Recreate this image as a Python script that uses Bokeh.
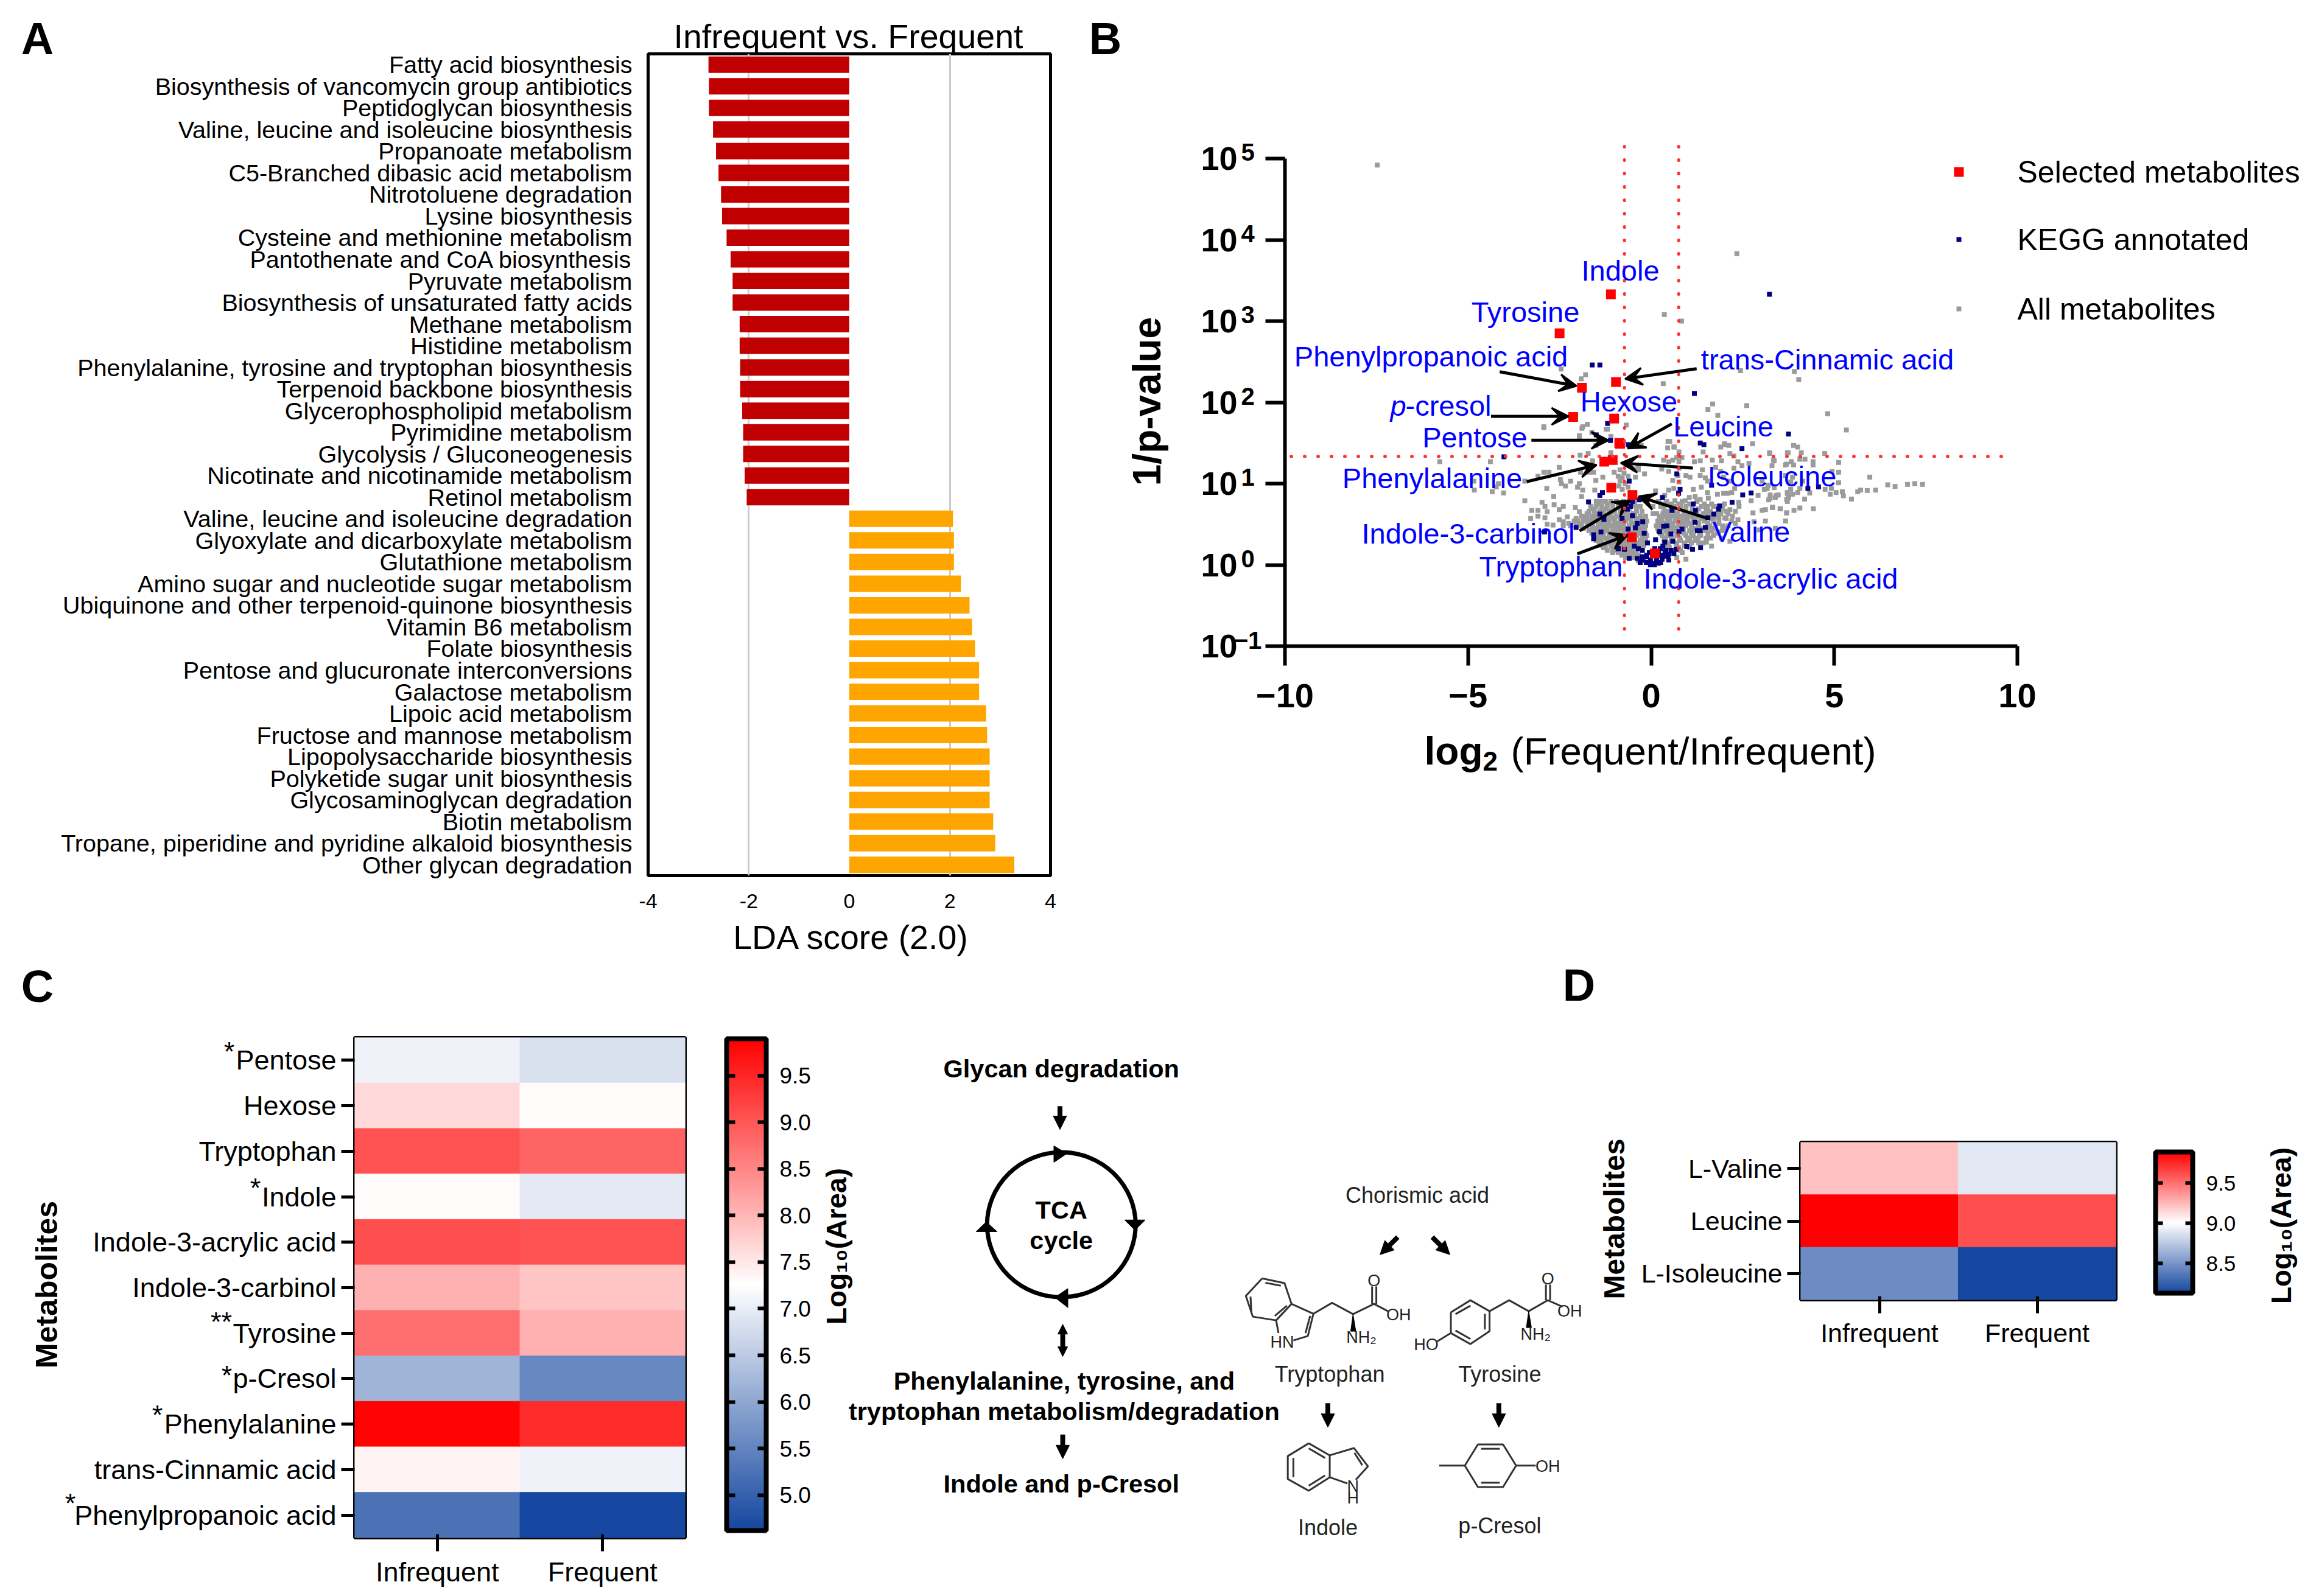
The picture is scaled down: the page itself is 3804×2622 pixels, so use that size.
from bokeh.plotting import figure
from bokeh.layouts import column, row, Spacer
from bokeh.models import (Range1d, FactorRange, FixedTicker, Arrow, VeeHead, NormalHead,
                          LinearColorMapper, ColorBar, ColumnDataSource, BasicTickFormatter, PrintfTickFormatter)
from bokeh.core.properties import value
from bokeh.transform import transform
from bokeh.embed import file_html
from bokeh.resources import INLINE
import math

FONT = "Liberation Sans"

# ---------- Panel A data ----------
pathways_red = ["Fatty acid biosynthesis", "Biosynthesis of vancomycin group antibiotics", "Peptidoglycan biosynthesis",
    "Valine, leucine and isoleucine biosynthesis", "Propanoate metabolism", "C5-Branched dibasic acid metabolism",
    "Nitrotoluene degradation", "Lysine biosynthesis", "Cysteine and methionine metabolism",
    "Pantothenate and CoA biosynthesis", "Pyruvate metabolism", "Biosynthesis of unsaturated fatty acids",
    "Methane metabolism", "Histidine metabolism", "Phenylalanine, tyrosine and tryptophan biosynthesis",
    "Terpenoid backbone biosynthesis", "Glycerophospholipid metabolism", "Pyrimidine metabolism",
    "Glycolysis / Gluconeogenesis", "Nicotinate and nicotinamide metabolism", "Retinol metabolism"]
scores_red = [-2.80, -2.79, -2.79, -2.71, -2.65, -2.60, -2.55, -2.53, -2.44, -2.36, -2.32, -2.32, -2.18, -2.18,
    -2.17, -2.17, -2.13, -2.11, -2.11, -2.08, -2.04]
pathways_orange = ["Valine, leucine and isoleucine degradation", "Glyoxylate and dicarboxylate metabolism",
    "Glutathione metabolism", "Amino sugar and nucleotide sugar metabolism",
    "Ubiquinone and other terpenoid-quinone biosynthesis", "Vitamin B6 metabolism", "Folate biosynthesis",
    "Pentose and glucuronate interconversions", "Galactose metabolism", "Lipoic acid metabolism",
    "Fructose and mannose metabolism", "Lipopolysaccharide biosynthesis", "Polyketide sugar unit biosynthesis",
    "Glycosaminoglycan degradation", "Biotin metabolism", "Tropane, piperidine and pyridine alkaloid biosynthesis",
    "Other glycan degradation"]
scores_orange = [2.06, 2.08, 2.08, 2.22, 2.39, 2.44, 2.50, 2.58, 2.58, 2.72, 2.74, 2.79, 2.79, 2.79, 2.86, 2.90, 3.28]

# ---------- Panel B data (log2 fold change, log10 of 1/p) ----------
selected_names = ["Indole", "Tyrosine", "Phenylpropanoic acid", "trans-Cinnamic acid", "p-cresol", "Hexose", "Leucine",
    "Pentose", "Phenylalanine", "Isoleucine", "Indole-3-carbinol", "Valine", "Tryptophan", "Indole-3-acrylic acid"]
selected_x = [-1.10, -2.50, -1.89, -0.96, -2.13, -1.01, -0.85, -0.87, -1.28, -1.05, -1.09, -0.51, -0.53, 0.10]
selected_log = [3.33, 2.85, 2.18, 2.25, 1.82, 1.80, 1.49, 1.50, 1.27, 1.29, 0.95, 0.86, 0.34, 0.14]
fc_lines = [-0.72, 0.76]
p_line_log = 1.334

all_sparse = [(-7.48,4.92),(2.34,3.83),(0.36,3.08),(0.83,3.0),(2.44,2.39),(3.91,2.38),(1.68,1.98),(1.55,1.91),(2.61,1.96),
 (0.33,2.23),(-2.46,2.41),(-1.79,2.34),(-1.91,2.29),(1.82,1.84),(-2.93,1.70),(-1.87,1.70),(-1.74,1.73),(-1.23,1.67),
 (-1.96,1.59),(-0.68,1.72),(1.82,1.63),(0.46,1.52),(0.63,1.45),(2.0,1.48),
 (-5.77,1.27),(-4.39,1.27),(-4.84,1.03),(-4.83,.92),(-4.34,.90),(-4.23,.96),(-4.03,.885),(-4.17,1.0),(-3.45,.79),(-3.45,1.03),
 (-3.09,1.09),(-2.93,1.14),(-2.79,1.14),(-2.51,1.20),(-2.48,1.05),(-2.45,1.0),(-2.34,.97),(-2.2,1.03),(-2.85,.94),(-2.66,.84),
 (-2.65,.74),(-2.98,.77),(-2.9,.72),(-2.84,.655),(-2.51,.68),(-2.4,.72),(-3.26,.67),(-3.09,.67),(-3.09,.6),(-3.29,.57),(-2.9,.58),
 (-2.84,.5),(-2.68,.49),(-2.51,.555),(-2.29,.59),(-2.4,.53),(-2.07,.705),(-1.96,.655),(-2.01,.955),(-1.96,1.0),(-1.87,.92),
 (-1.9,.84),(-1.54,.92),(-1.51,1.04),(-1.32,1.08),(-1.93,1.14),(-1.68,1.14),(-1.57,1.14),(-1.94,1.35),(-1.72,1.37),(-1.6,1.28),
 (-1.96,1.58),(-1.51,1.47),(-1.1,1.38),(-1.1,1.58),(-1.62,1.63),(-1.89,1.68),(-1.19,1.67),(-2.93,1.69),
 (-1.01,1.14),(-.85,1.17),(-.74,1.13),(-.9,1.09),(-.79,1.07),(-.63,1.09),(-.46,1.18),(-.35,1.17),(-.18,1.12),(-.85,1.03),
 (-.71,1.0),(-.88,.97),(-.63,.955),(-.43,1.08),(-.79,.93),(-.35,1.22),
 (.51,1.52),(.45,1.44),(.62,1.45),(-.27,1.47),(1.9,1.45),(2.0,1.49),(2.12,1.47),(2.77,1.49),(1.42,1.39),(2.15,1.37),(2.26,1.34),
 (3.23,1.38),(3.72,1.38),(.84,1.32),(.76,1.39),(.7,1.32),(1.18,1.27),(1.34,1.28),(1.67,1.29),(1.92,1.28),(2.37,1.27),(2.67,1.25),
 (3.34,1.29),(3.7,1.24),(.34,1.29),(.48,1.27),(.59,1.29),(.76,1.27),(.29,1.18),(.48,1.15),(.76,1.19),(1.4,1.17),(1.34,1.10),
 (1.06,1.08),(.95,1.10),(.73,1.10),(.59,1.04),(.76,1.02),(.62,.94),(.48,.92),(.37,.855),(.12,.91),(1.48,1.07),(1.54,1.03),
 (1.76,1.2),(1.9,1.15),(1.98,1.08),(2.26,1.19),(2.48,1.22),(2.15,1.03),(2.28,.94),(2.09,.88),(1.98,.88),(1.81,.87),(2.2,.89),
 (2.39,.77),(2.73,.79),(2.92,.855),(3.09,.93),(3.25,.82),(3.42,.855),(3.7,.805),(3.72,.89),(3.03,1.03),(3.2,.98),(1.37,.955),
 (1.15,.93),(1.54,.89),(1.56,.82),(1.2,.84),(1.34,.805),(1.04,.83),(.93,.79),(.65,.79),(.48,.74),(.26,.72),(.15,.63),(.32,.63),
 (.51,.6),(.73,.63),(.95,.72),(1.01,.6),(1.37,.72),(1.54,.72),(1.42,.63),(1.7,.72),(2.15,.68),(1.9,.63),(2.01,.58),(2.78,.64),
 (3.03,.67),(3.12,.68),(3.31,.705),(3.53,.69),(3.7,.64),(2.37,.555),(2.81,.53),(3.12,.54),(3.67,.54),(2.95,.43),(1.84,.405),
 (2.15,.29),(1.65,.23),(1.51,.28),(1.92,.33),(.95,.07),
 (4.03,2.28),(4.82,1.86),(5.33,1.66),(3.89,1.47),(4.0,1.45),(3.24,1.37),(3.74,1.38),(4.1,1.38),(4.74,1.37),(4.06,1.3),(4.2,1.3),
 (4.42,1.27),(4.42,1.23),(5.12,1.26),(3.36,1.28),(3.3,1.22),(3.67,1.23),(3.83,1.27),(3.89,1.23),(4.94,1.15),(5.12,1.14),(5.97,1.08),
 (5.12,1.01),(3.67,1.1),(3.86,1.08),(4.14,1.03),(3.81,1.02),(3.81,.93),(3.36,.95),(4.06,.94),(3.17,.94),(4.75,.93),(4.92,.94),
 (4.89,.87),(5.05,.89),(5.22,.9),(5.25,.85),(5.47,.81),(5.64,.9),(5.72,.92),(5.9,.915),(6.13,.92),(6.46,.985),(6.66,.965),(7.0,.99),
 (7.2,1.0),(7.41,.99),(4.33,.885),(4.19,.81),(3.72,.88),(4.0,.89),(3.86,.87),(3.47,.86),(3.25,.86),(3.21,.8),(3.39,.83),(3.72,.78),
 (3.75,.83),(3.32,.71),(3.52,.69),(3.7,.64),(3.9,.67),(4.06,.70),(4.43,.69),(3.67,.54),(3.39,.45)]

all_core_rows = {
 .78: [-1.5,-1.38,-1.25,-1.1,-.95,-.75,-.6,-.45,.2,.42,.85,1.25],
 .75: [-1.45,-1.2,-.85,-.5,.3,.55,.75,1.05,1.45,1.65,2.0],
 .72: [-1.65,-1.5,-1.35,-1.2,-1.05,-.9,-.72,-.55,-.4,-.3,.05,.62,.8,1.12,1.78,2.4],
 .69: [-1.6,-1.25,-.8,-.6,.35,.55,.95,1.3,1.5,1.95],
 .66: [-1.7,-1.55,-1.4,-1.3,-1.15,-1.0,-.85,-.65,-.4,-.25,.42,.62,.9,1.12,1.62,2.05,2.3],
 .63: [-1.75,-1.45,-1.1,-.72,-.5,.05,.48,.7,.9,1.25,1.5,1.8,2.1],
 .60: [-1.9,-1.8,-1.62,-1.5,-1.35,-1.22,-1.1,-.95,-.8,-.6,-.45,-.3,-.15,.22,.4,.62,.85,1.12,1.28,1.6,1.78,2.22],
 .57: [-2.05,-1.75,-1.55,-1.25,-1.05,-.85,-.65,-.35,-.2,.28,.45,.72,.95,1.15,1.35,1.65,1.85,2.05],
 .54: [-2.1,-2.0,-1.85,-1.72,-1.6,-1.45,-1.3,-1.15,-1.0,-.85,-.7,-.55,-.4,-.25,-.12,.18,.3,.5,.65,.82,1.0,1.2,1.45,1.7,2.2],
 .51: [-2.25,-1.95,-1.65,-1.4,-1.2,-.95,-.78,-.5,-.35,-.18,.22,.42,.6,.88,1.08,1.3,1.55,1.85,2.3],
 .48: [-2.4,-2.2,-2.05,-1.9,-1.75,-1.6,-1.45,-1.32,-1.18,-1.05,-.9,-.75,-.6,-.45,-.3,-.15,.14,.25,.55,.75,.95,1.1,1.3,1.6,1.75,1.95,2.1],
 .45: [-1.85,-1.5,-1.25,-1.0,-.8,-.65,-.38,-.22,.18,.32,.48,.68,.88,1.18,1.38,1.52,1.7,2.0],
 .42: [-1.7,-1.58,-1.45,-1.32,-1.2,-1.05,-.9,-.75,-.6,-.45,-.3,-.18,.2,.4,.6,.85,1.05,1.25,1.45,1.65,1.95],
 .39: [-1.62,-1.38,-1.1,-.92,-.65,-.5,-.32,-.15,.25,.45,.72,.9,1.1,1.32,1.55,1.8],
 .36: [-1.55,-1.42,-1.3,-1.15,-1.0,-.85,-.7,-.55,-.4,-.25,-.12,.3,.5,.7,.95,1.15,1.35,1.7],
 .33: [-1.45,-1.22,-1.08,-.95,-.78,-.62,-.48,-.2,.4,.55,.78,1.05,1.28,1.5,1.62],
 .30: [-1.5,-1.35,-1.2,-1.05,-.9,-.75,-.6,-.45,-.3,-.15,.35,.6,.8,1.0,1.2],
 .27: [-1.42,-1.15,-.98,-.82,-.68,-.52,-.38,-.25,.48,.68,.92,1.1,1.3,1.42],
 .24: [-1.4,-1.25,-1.1,-.95,-.8,-.65,-.5,-.35,-.2,.4,.7,.9],
 .21: [-1.3,-1.05,-.9,-.72,-.58,-.42,-.28,.5,.75,1.05],
 .18: [-1.2,-1.0,-.85,-.7,-.55,-.4,.55,.8],
 .15: [-1.05,-.9,-.75,-.6,-.45,.62,.85],
 .12: [-.8,-.65,-.5,-.35],
 .09: [-.7,-.55,-.42,.7],
 .05: [-.35,-.2],
}

kegg_points = [(-1.11,1.53),(-.63,1.48),(.7,1.12),(.79,.93),(.75,.88),(1.65,.98),(1.34,1.5),(1.44,1.48),(2.48,1.43),(3.75,1.61),(.31,.83),
 (1.15,.75),(1.21,.67),(.57,.67),(2.5,.86),(2.73,.885),(2.21,.77),(1.87,.725),(1.84,.685),(1.71,.625),(1.55,.58),(1.2,.525),(1.48,.46),
 (1.34,.42),(1.26,.42),(.84,.44),(.76,.41),(.54,.38),(.23,.41),(.34,.475),(.43,.48),(-.19,.39),(-.23,.53),(-.38,.51),(-.43,.455),
 (-.51,.605),(-.79,.57),(-.6,1.03),(-.51,.78),(-.32,.8),(-.65,.685),(-.56,.72),(-.63,.44),(-.9,.2),(-.73,.19),(.12,.31),(-.1,.27),
 (.59,.29),(.97,.225),(1.13,.19),(1.35,.21),(-.6,.08),(-.46,.23),(-.35,.2),(-.24,.18),(-.13,.1),(-.24,.1),(-.38,.08),(.37,.28),(.32,.23),
 (.4,.18),(.54,.18),(.62,.14),(.45,.107),(.32,.107),(.48,.06),(.26,.03),(.09,.0),(-.02,.0),(-.13,.03),(-.02,.06),(.15,.06),(-.24,.06),
 (.2,.14),(.25,.2),(-.05,.15),(.1,.2),(-1.5,1.6),(-4.02,1.33),(-1.71,.775),(-1.4,.855),(-1.33,.89),(-1.4,.625),(-1.29,.56),(-2.05,.46),
 (-1.57,.37),(-1.57,.32),(-1.37,.405),(-2.91,.405),(-.9,.2),(4.28,.94),(4.57,.96),(3.23,3.33),(-1.61,2.46),(-1.4,2.46),(1.18,2.11),(-1.19,1.74),
 (-.08,.03),(.05,.02),(.2,.02),(.3,.07),(.05,.12),(-.12,.12),(.38,.16),(.15,.1),(-.3,.03),(.48,.13),(.25,.12),(.68,.19)]

# ---------- Panels C, D data ----------
metabolites_c = ["Pentose", "Hexose", "Tryptophan", "Indole", "Indole-3-acrylic acid", "Indole-3-carbinol", "Tyrosine",
                 "p-Cresol", "Phenylalanine", "trans-Cinnamic acid", "Phenylpropanoic acid"]
infrequent_c = [7.08, 7.64, 9.05, 7.30, 9.09, 8.06, 8.76, 6.18, 9.87, 7.38, 5.25]
frequent_c = [6.82, 7.30, 8.85, 6.95, 9.05, 7.85, 8.06, 5.55, 9.44, 7.07, 4.65]
metabolites_d = ["L-Valine", "Leucine", "L-Isoleucine"]
infrequent_d = [9.22, 9.89, 8.46]
frequent_d = [8.90, 9.62, 8.13]
groups = ["Infrequent", "Frequent"]

BLUE, WHITE, RED = (21, 71, 160), (255, 255, 255), (255, 0, 0)
def ramp(a, b, n):
    return [(a[0] + (b[0]-a[0])*i/n, a[1] + (b[1]-a[1])*i/n, a[2] + (b[2]-a[2])*i/n) for i in range(n)]
palette = ["#%02x%02x%02x" % tuple(int(round(c)) for c in col) for col in ramp(BLUE, WHITE, 128) + ramp(WHITE, RED, 128) + [RED]]

def make_fig(W, H, bl, br, bt, bb, **kw):
    p = figure(width=W, height=H, output_backend="svg", toolbar_location=None, min_border_left=bl, min_border_right=br,
               min_border_top=bt, min_border_bottom=bb, background_fill_color=None, border_fill_color=None, frame_align=False, **kw)
    return p

# full-page transparent layer in page pixel coordinates: free texts, legend, schematic
lay = figure(width=3788, height=2606, output_backend="svg", toolbar_location=None, min_border=0, frame_align=False,
             x_range=Range1d(8, 3796), y_range=Range1d(2614, 8), background_fill_color=None, border_fill_color=None)
lay.axis.visible = False; lay.grid.visible = False; lay.outline_line_color = None

def label(px, py, text, size, style="normal", color="black", align="center", angle=0):
    lay.text([px], [py], text=[text], text_font=value(FONT), text_font_size=f"{size}px", text_font_style=style, text_color=color,
             text_align=align, text_baseline="middle", angle=angle)

# ================= A =================
order_a = pathways_red + pathways_orange
pa = make_fig(1772, 1562, 1056, 55, 80, 132, x_range=Range1d(-4, 4), y_range=FactorRange(factors=order_a[::-1]))
pa.hbar(y=pathways_red, left=0, right=scores_red, height=0.76, color="#C00000", line_color=None)
pa.hbar(y=pathways_orange, left=0, right=scores_orange, height=0.76, color="#FFA500", line_color=None)
pa.xgrid.ticker = FixedTicker(ticks=[-2, 2])
pa.xgrid.grid_line_color = "#cccccc"; pa.xgrid.grid_line_width = 3
pa.ygrid.visible = False
pa.xaxis.ticker = FixedTicker(ticks=[-4, -2, 0, 2, 4])
pa.xaxis.major_label_overrides = {-4: "-4", -2: "-2", 0: "0", 2: "2", 4: "4"}
pa.xaxis.major_tick_line_color = None; pa.xaxis.minor_tick_line_color = None; pa.xaxis.axis_line_color = None
pa.xaxis.major_label_text_font = FONT; pa.xaxis.major_label_text_font_size = "34px"; pa.xaxis.major_label_standoff = 24
pa.xaxis.major_label_text_color = "black"
pa.yaxis.major_tick_line_color = None; pa.yaxis.axis_line_color = None; pa.yaxis.minor_tick_line_color = None
pa.yaxis.major_label_text_font = FONT; pa.yaxis.major_label_text_font_size = "39.5px"; pa.yaxis.major_label_standoff = 20
pa.yaxis.major_label_text_color = "black"
pa.outline_line_color = "black"; pa.outline_line_width = 5
label(1393, 59, "Infrequent vs. Frequent", 55.5)
label(1398, 1539, "LDA score (2.0)", 55.5)
label(61, 63, "A", 74, "bold")

# ================= B =================
pb = make_fig(2016, 1562, 330, 483, 252, 509, x_range=Range1d(-10, 10), y_range=Range1d(0.1, 1e5), y_axis_type="log")
all_points = all_sparse + [(x, y) for y, xs in all_core_rows.items() for x in xs]
ax, ay = zip(*all_points)
kx, ky = zip(*kegg_points)
pb.scatter(list(ax), [10**v for v in ay], marker="square", size=8, color="#9b9b9b", line_color=None)
pb.scatter(list(kx), [10**v for v in ky], marker="square", size=8, color="#000080", line_color=None)
pb.scatter(selected_x, [10**v for v in selected_log], marker="square", size=16, color="#ff0000", line_color=None)
pb.grid.visible = False
pb.outline_line_color = None
pb.xaxis.ticker = FixedTicker(ticks=[-10, -5, 0, 5, 10])
pb.xaxis.major_label_overrides = {-10: "\u221210", -5: "\u22125", 0: "0", 5: "5", 10: "10"}
pb.yaxis.ticker = FixedTicker(ticks=[0.1, 1, 10, 100, 1000, 10000, 100000])
pb.yaxis.formatter = BasicTickFormatter()
pb.yaxis.major_label_overrides = {0.1: "10", 1: "10", 10: "10", 100: "10", 1000: "10", 10000: "10", 100000: "10"}
for ax_ in (pb.xaxis, pb.yaxis):
    ax_.axis_line_width = 6; ax_.axis_line_color = "black"
    ax_.major_tick_line_width = 6; ax_.major_tick_line_color = "black"; ax_.major_tick_in = 0; ax_.major_tick_out = 32
    ax_.minor_tick_line_color = None
    ax_.major_label_text_font = FONT; ax_.major_label_text_font_style = "bold"; ax_.major_label_text_font_size = "56px"
    ax_.major_label_text_color = "black"
pb.xaxis.major_label_standoff = 30
pb.yaxis.major_label_standoff = 46
pb.yaxis.major_label_text_font_size = "54px"
def bx(px): return (px - 2711) / 60.15
def by(py): return 10 ** (5 - (py - 259.5) / 133.6)
# dotted threshold lines run a little past the axes, so they are drawn on the page layer
for fc in fc_lines:
    px = 2711 + fc * 60.15
    lay.line([px, px], [240, 1053], line_color="#ff3030", line_width=5, line_dash="1 21", line_cap="round")
py_line = 259.5 + (5 - p_line_log) * 133.6
lay.line([2120, 3308], [py_line, py_line], line_color="#ff3030", line_width=5, line_dash="1 21", line_cap="round")
for e, t in zip([5, 4, 3, 2, 1, 0, -1], ["5", "4", "3", "2", "1", "0", "\u22121"]):
    label(2049, 249.5 + (5 - e) * 133.6, t, 40, "bold")
blue_text = [("Indole", 2661, 444), ("Tyrosine", 2505, 512), ("Phenylpropanoic acid", 2350, 585), ("trans-Cinnamic acid", 3001, 590),
             ("Hexose", 2675, 659), ("Leucine", 2830, 700), ("Pentose", 2422, 718), ("Isoleucine", 2910, 782),
             ("Phenylalanine", 2352, 785), ("Indole-3-carbinol", 2411, 876), ("Valine", 2876, 873), ("Tryptophan", 2547, 930),
             ("Indole-3-acrylic acid", 2908, 950)]
for t, px, py in blue_text:
    label(px, py, t, 47, color="#0000ff")
label(2283, 666, "p", 47, "italic", "#0000ff", "left")
label(2308, 666, "-cresol", 47, "normal", "#0000ff", "left")
def z3(zx, zy): return (2300 + zx/1.96, 550 + zy/3)
arrows_b = [((318,180),(565,250)),((952,165),(722,215)),((290,400),(540,400)),((420,518),(668,518)),((872,437),(730,558)),
            ((940,655),(708,630)),((405,722),(630,640)),((990,905),(765,795)),((575,965),(738,815)),((568,1078),(730,985))]
for s, e in arrows_b:
    sx, sy = z3(*s); ex, ey = z3(*e)
    pb.add_layout(Arrow(end=VeeHead(size=28, line_color="black", fill_color="black", line_width=3), x_start=bx(sx), y_start=by(sy),
                        x_end=bx(ex), y_end=by(ey), line_color="black", line_width=5))
label(1883, 659, "1/p-value", 64, "bold", angle=math.pi/2)
label(2339, 1233, "log", 64, "bold", align="left")
label(2435, 1250, "2", 44, "bold", align="left")
label(2481, 1233, "(Frequent/Infrequent)", 63.5, align="left")
label(1815, 63, "B", 74, "bold")
# legend of panel B
legend_entries = [("Selected metabolites", 282, "#ff0000", 16), ("KEGG annotated", 393, "#000080", 8), ("All metabolites", 507, "#9b9b9b", 8)]
for name, py, col, sz in legend_entries:
    lay.scatter([3217], [py], marker="square", size=sz, color=col, line_color=None)
    label(3313, py, name, 50, align="left")

# ================= heatmap helper =================
def heat(W, H, bl, br, bt, bb, mets, inf, fre, tick_size, cb_low, cb_high, cb_x, cb_y, cb_w, cb_h, cb_ticks, cb_font, dash):
    p = make_fig(W, H, bl, br, bt, bb, x_range=FactorRange(factors=groups), y_range=FactorRange(factors=mets[::-1]))
    mapper = LinearColorMapper(palette=palette, low=cb_low, high=cb_high)
    src = ColumnDataSource(dict(x=[groups[0]]*len(mets) + [groups[1]]*len(mets), y=mets+mets, v=inf+fre))
    p.rect(x="x", y="y", width=1, height=1, source=src, fill_color=transform("v", mapper), line_color=transform("v", mapper))
    p.grid.visible = False
    p.outline_line_color = "black"; p.outline_line_width = 5
    for a in (p.xaxis, p.yaxis):
        a.axis_line_color = None; a.major_tick_line_color = "black"; a.major_tick_line_width = 5; a.major_tick_out = 22
        a.minor_tick_line_color = None; a.major_label_text_font = FONT; a.major_label_text_font_size = f"{tick_size}px"
        a.major_label_text_color = "black"; a.major_label_standoff = 8
    p.yaxis.major_tick_in = 0; p.xaxis.major_tick_in = 6
    cb = ColorBar(color_mapper=mapper, location=(cb_x, cb_y), width=cb_w, height=cb_h, padding=0, margin=0,
                  ticker=FixedTicker(ticks=cb_ticks), formatter=PrintfTickFormatter(format="%.1f"), bar_line_color="black", bar_line_width=8,
                  border_line_color=None, background_fill_alpha=0, major_tick_line_color="black", major_tick_line_width=6,
                  major_tick_in=cb_w, major_tick_line_dash=dash, minor_tick_line_color=None, major_label_text_font=FONT,
                  major_label_text_font_size=f"{cb_font}px", major_label_text_color="black", label_standoff=22)
    p.add_layout(cb, "center")
    return p

# ================= C =================
pc = heat(1392, 1044, 574, 275, 134, 88, metabolites_c, infrequent_c, frequent_c, 45, 4.62, 9.895,
          611, 12, 65, 808, [5.0, 5.5, 6.0, 6.5, 7.0, 7.5, 8.0, 8.5, 9.0, 9.5], 37, "14 37")
for s, px, py in [("*", 376, 1717), ("*", 419, 1941), ("**", 363, 2161), ("*", 372, 2249), ("*", 258, 2314), ("*", 115, 2459)]:
    label(px, py + 10, s, 45)
label(76, 2110, "Metabolites", 50, "bold", angle=math.pi/2)
label(1373, 2047, "Log\u2081\u2080(Area)", 46, "bold", angle=math.pi/2)
label(61, 1620, "C", 74, "bold")

# ================= schematic (on the layer) =================
def z5(zx, zy): return (1380 + zx/1.3067, 1680 + zy/1.668)
def mtext(zx, zy, t, size, style="normal", color="black"):
    x, y = z5(zx, zy)
    label(x, y, t, size, style, color)
for zx, zy, t in [(474,125,"Glycan degradation"),(474,512,"TCA"),(474,595,"cycle"),(480,980,"Phenylalanine, tyrosine, and"),
                  (480,1065,"tryptophan metabolism/degradation"),(474,1262,"Indole and p-Cresol")]:
    mtext(zx, zy, t, 41.5, "bold")
for zx, zy, t, s in [(1238,472,"Chorismic acid",36),(1050,962,"Tryptophan",36),(1415,962,"Tyrosine",36),(1046,1383,"Indole",36),
                  (1415,1378,"p-Cresol",36),(1145,707,"O",27),(1198,800,"OH",27),(1118,862,"NH\u2082",27),(948,875,"HN",27),
                  (1518,702,"O",27),(1565,790,"OH",27),(1492,853,"NH\u2082",27),(1257,882,"HO",27),(1100,1270,"N",27),(1100,1302,"H",27),(1518,1215,"OH",27)]:
    mtext(zx, zy, t, s, color="#222222")
cx, cy = z5(474, 553)
lay.ellipse([cx], [cy], width=244, height=238, fill_color=None, line_color="black", line_width=7)
tris = [[(458,337),(458,382),(486,358)],[(610,540),(654,540),(632,568)],[(488,728),(488,780),(460,752)],[(291,572),(336,572),(313,545)]]
lay.patches([[z5(*q)[0] for q in t] for t in tris], [[z5(*q)[1] for q in t] for t in tris], fill_color="black", line_color="black")
bonds = [
 [(905,700),(953,713),(968,770),(935,815),(885,805),(870,748),(905,700)],[(912,712),(945,720)],[(958,775),(932,803)],[(882,795),(880,750)],
 [(968,770),(1015,797),(1003,858),(972,870)],[(1008,803),(998,850)],[(935,815),(940,850)],
 [(1015,797),(1055,767),(1100,798),(1145,770),(1175,790)],[(1141,770),(1141,722)],[(1150,770),(1150,722)],
 [(1310,793),(1352,760),(1393,790),(1393,845),(1352,880),(1310,850),(1310,793)],[(1320,798),(1352,775)],[(1383,797),(1383,840)],[(1320,843),(1352,866)],
 [(1310,850),(1278,875)],[(1393,790),(1435,760),(1477,790),(1518,760),(1550,778)],[(1514,760),(1514,717)],[(1523,760),(1523,717)],
 [(1005,1152),(1050,1185),(1050,1245),(1005,1282),(960,1250),(960,1187),(1005,1152)],[(1005,1166),(1040,1192)],[(1040,1240),(1005,1268)],[(972,1245),(972,1192)],
 [(1050,1185),(1102,1165),(1132,1215),(1106,1252)],[(1103,1178),(1120,1212)],[(1050,1245),(1088,1262)],
 [(1285,1213),(1340,1213),(1368,1155),(1422,1155),(1450,1213),(1422,1272),(1368,1272),(1340,1213)],[(1375,1167),(1415,1167)],[(1375,1260),(1415,1260)],[(1450,1213),(1492,1213)],
]
lay.multi_line([[z5(*q)[0] for q in b] for b in bonds], [[z5(*q)[1] for q in b] for b in bonds], line_color="#333333", line_width=3)
wedges = [[(1100,798),(1095,845),(1106,845)],[(1477,790),(1472,835),(1483,835)]]
lay.patches([[z5(*q)[0] for q in t] for t in wedges], [[z5(*q)[1] for q in t] for t in wedges], fill_color="black", line_color="black")
block = [((471,228),(471,292),False),((477,826),(477,914),True),((477,1128),(477,1194),False),((1196,587),(1158,635),False),
         ((1270,587),(1308,635),False),((1046,1042),(1046,1108),False),((1413,1042),(1413,1108),False)]
for s, e, both in block:
    sx, sy = z5(*s); ex, ey = z5(*e)
    kw = dict(start=NormalHead(size=16, fill_color="black", line_color="black")) if both else dict(start=None)
    lay.add_layout(Arrow(end=NormalHead(size=16 if both else 22, fill_color="black", line_color="black"), x_start=sx, y_start=sy, x_end=ex, y_end=ey,
                         line_color="black", line_width=8, **kw))
label(2593, 1618, "D", 74, "bold")

# ================= D =================
pd_ = heat(1166, 1044, 327, 321, 306, 479, metabolites_d, infrequent_d, frequent_d, 43, 8.13, 9.89,
           583, 11, 61, 232, [8.5, 9.0, 9.5], 35, "12 37")
label(2651, 2002, "Metabolites", 48, "bold", angle=math.pi/2)
label(3746, 2013, "Log\u2081\u2080(Area)", 46, "bold", angle=math.pi/2)

main = column(row(pa, pb, spacing=0), row(pc, Spacer(width=1230, height=1044), pd_, spacing=0), spacing=0, margin=(8, 0, -2606, 8))
lay.margin = (0, 0, 0, 8)
page = column(main, lay, spacing=0)
open("out.html", "w").write(file_html(page, INLINE))
